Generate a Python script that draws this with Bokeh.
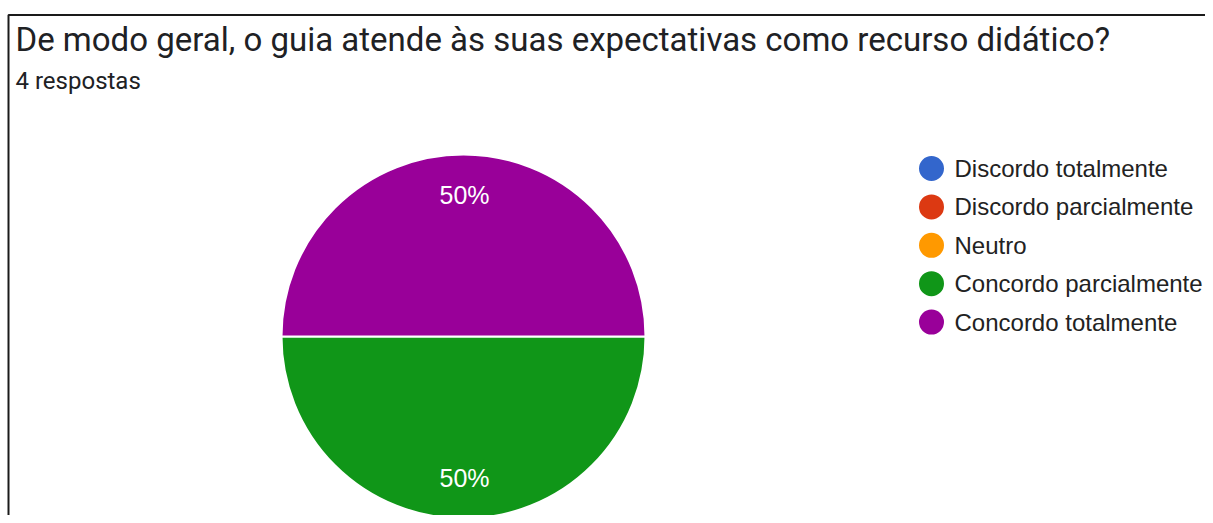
import math
from bokeh.plotting import figure
from bokeh.models import ColumnDataSource, Label, BoxAnnotation, Range1d
from bokeh.core.properties import value
from bokeh.embed import file_html
from bokeh.resources import INLINE

title_text = "De modo geral, o guia atende às suas expectativas como recurso didático?"
subtitle_text = "4 respostas"
categories = ["Discordo totalmente", "Discordo parcialmente", "Neutro",
              "Concordo parcialmente", "Concordo totalmente"]
counts = [0, 0, 0, 2, 2]
colors = ["#3366cc", "#dc3912", "#ff9900", "#109618", "#990099"]

W, H = 1205, 515
p = figure(width=W, height=H, output_backend="svg", toolbar_location=None,
           x_range=Range1d(0, W), y_range=Range1d(0, H),
           min_border=0, min_border_left=0, min_border_right=0,
           min_border_top=0, min_border_bottom=0)
p.axis.visible = False
p.grid.visible = False
p.outline_line_color = None
p.background_fill_color = "white"
p.border_fill_color = "white"

# frame of the screenshot box (top and left edges visible)
p.add_layout(BoxAnnotation(left=8, right=W + 50, top=500.5, bottom=-50,
                           fill_alpha=0, line_color="#1a1a1a", line_alpha=1.0,
                           line_width=2))

# pie
cx, cy, r = 463, 179, 182
total = sum(counts)
starts, ends, mids, cols, pcts = [], [], [], [], []
cum = 0
for c, col in zip(counts, colors):
    if c > 0:
        a0 = -2 * math.pi * cum / total
        a1 = -2 * math.pi * (cum + c) / total
        starts.append(a0)
        ends.append(a1)
        mids.append((a0 + a1) / 2)
        cols.append(col)
        pcts.append(f"{round(100 * c / total)}%")
    cum += c

src = ColumnDataSource(dict(start=starts, end=ends, color=cols))
p.wedge(x=cx, y=cy, radius=r, start_angle="start", end_angle="end",
        direction="clock", fill_color="color", line_color="white", line_width=2,
        source=src)

lr = 0.78 * r
lab_src = ColumnDataSource(dict(
    x=[cx + 1 + lr * math.cos(m) for m in mids],
    y=[cy + lr * math.sin(m) for m in mids],
    t=pcts))
p.text(x="x", y="y", text="t", source=lab_src, text_color="white",
       text_font=value("Liberation Sans"), text_font_size="25px",
       text_align="center", text_baseline="middle")

# legend
lx, ly0, dy = 931, 347, 38.4
leg_src = ColumnDataSource(dict(
    x=[lx] * len(categories),
    y=[ly0 - i * dy for i in range(len(categories))],
    tx=[lx + 23] * len(categories),
    label=categories, color=colors))
p.scatter(x="x", y="y", size=25, fill_color="color", line_color=None, source=leg_src)
p.text(x="tx", y="y", text="label", source=leg_src, text_color="#222222",
       text_font=value("Liberation Sans"), text_font_size="24px",
       text_baseline="middle", text_align="left")

# titles
p.add_layout(Label(x=15, y=475.7, text=title_text, text_font="Roboto",
                   text_font_size="33px", text_color="#202124",
                   text_baseline="alphabetic"))
p.add_layout(Label(x=15, y=434.7, text=subtitle_text, text_font="Roboto",
                   text_font_size="24px", text_color="#202124",
                   text_baseline="alphabetic"))

open("out.html", "w").write(file_html(p, INLINE))
